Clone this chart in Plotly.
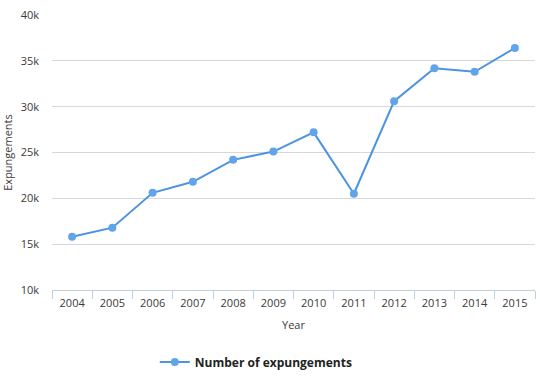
import plotly.graph_objects as go

years = ["2004", "2005", "2006", "2007", "2008", "2009", "2010", "2011", "2012", "2013", "2014", "2015"]
expungements = [15800, 16800, 20600, 21800, 24200, 25100, 27200, 20500, 30600, 34200, 33800, 36400]
y_ticks = [10000, 15000, 20000, 25000, 30000, 35000, 40000]
y_tick_labels = ["10k", "15k", "20k", "25k", "30k", "35k", "40k"]
series_name = "Number of expungements"

fig = go.Figure()
fig.add_trace(go.Scatter(
    x=years, y=expungements, mode="lines+markers",
    name="<b>" + series_name + "</b>",
    line=dict(color="#4C93E0", width=2),
    marker=dict(color="#62A4EA", size=8),
))

font_family = "Open Sans, DejaVu Sans, sans-serif"
text_color = "#3a3a3a"
fig.update_layout(
    width=540, height=376,
    margin=dict(l=52, r=5, t=15, b=86),
    paper_bgcolor="white", plot_bgcolor="white",
    font=dict(family=font_family, size=11, color=text_color),
    showlegend=True,
    legend=dict(orientation="h", x=0.423, xanchor="center",
                yref="container", y=0.037, yanchor="middle",
                font=dict(size=12, color="#222222", family=font_family),
                itemwidth=30),
    xaxis=dict(
        type="category", automargin=False,
        showgrid=False,
        showline=True, linecolor="#C0D0E0", linewidth=1,
        ticks="outside", tickson="boundaries", ticklen=8, tickcolor="#C0D0E0",
        ticklabelstandoff=3,
        tickfont=dict(size=11, color=text_color),
        title=dict(text="Year", font=dict(size=11, color=text_color), standoff=12),
        range=[-0.5, 11.5],
    ),
    yaxis=dict(
        automargin=False,
        range=[10000, 40000],
        tickvals=y_ticks, ticktext=y_tick_labels,
        showgrid=True, gridcolor="#D8D8D8", gridwidth=1,
        zeroline=False, showline=False,
        ticks="", ticklabelstandoff=12,
        tickfont=dict(size=11, color=text_color),
        title=dict(text="Expungements", font=dict(size=11, color=text_color), standoff=5),
    ),
)

fig.write_html("out.html", config={"displayModeBar": False},
               post_script="document.body.style.margin='0';")
